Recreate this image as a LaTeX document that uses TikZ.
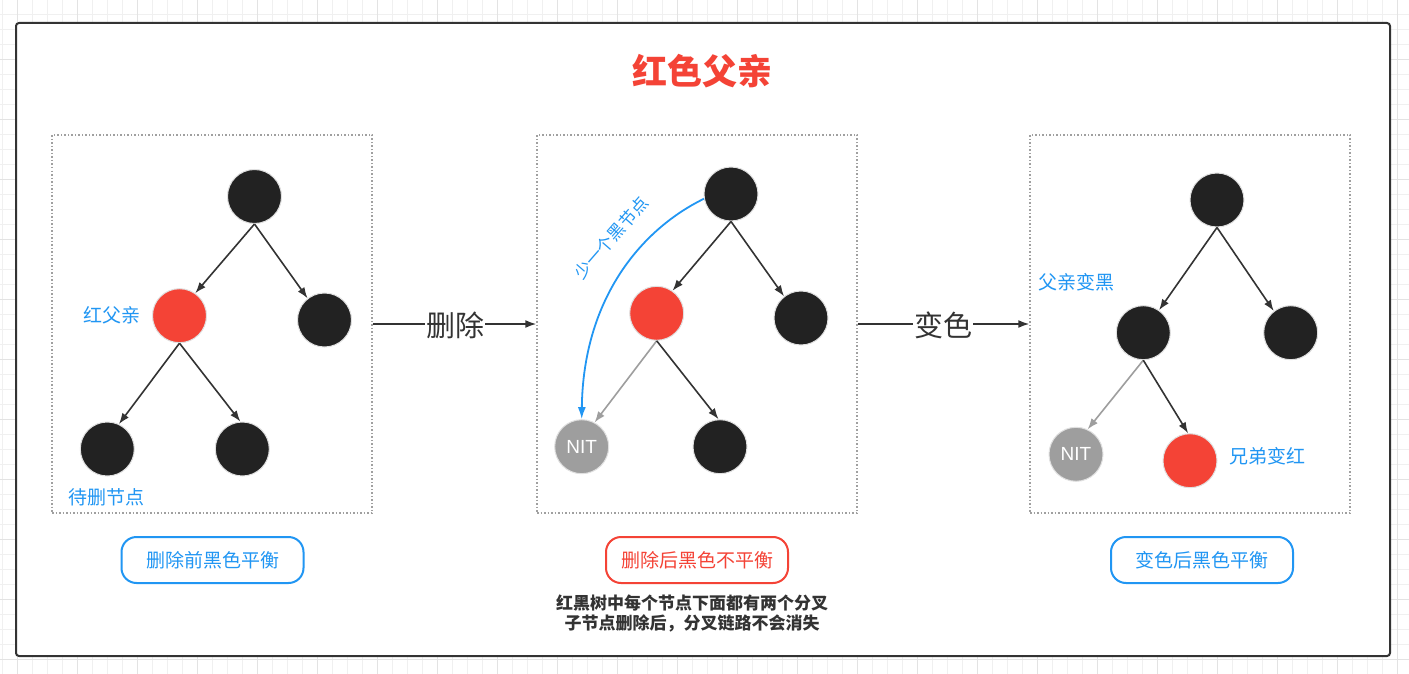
\documentclass[tikz,border=0pt]{standalone}
\usepackage{fontspec}
\setmainfont{Noto Sans CJK SC}
\newfontfamily\latinsans{Liberation Sans}
\usetikzlibrary{arrows.meta}
\definecolor{cred}{HTML}{F44336}
\definecolor{cblk}{HTML}{222222}
\definecolor{cgry}{HTML}{9E9E9E}
\definecolor{cblu}{HTML}{2196F3}
\definecolor{cdark}{HTML}{333333}
\definecolor{gridA}{HTML}{F0F0F0}
\definecolor{gridB}{HTML}{E3E3E3}
\definecolor{pan}{HTML}{A0A0A0}
\begin{document}
\begin{tikzpicture}[x=1pt,y=-1pt,
  rb/.style={circle, minimum size=54pt, inner sep=0pt, draw=white!88!black, line width=1pt},
  blk/.style={rb, fill=cblk},
  redn/.style={rb, fill=cred},
  nit/.style={rb, fill=cgry, text=white, font=\latinsans\fontsize{19}{21}\selectfont},
  edge/.style={draw=cdark, line width=1.6pt, -{Latex[length=11pt,width=8pt]}},
  gedge/.style={draw=cgry, line width=1.6pt, -{Latex[length=11pt,width=8pt]}},
  panel/.style={draw=pan, line width=1.5pt, dash pattern=on 1.5pt off 2pt, minimum width=320pt, minimum height=378pt, inner sep=0pt},
  lbl/.style={text=cblu, font=\fontsize{19}{22}\selectfont, inner sep=1pt},
  bigarrow/.style={draw=cdark, line width=1.6pt, -{Latex[length=11pt,width=8pt]}},
  biglbl/.style={fill=white, text=cdark, font=\fontsize{29}{32}\selectfont, inner sep=1pt},
  capbox/.style={draw=#1, text=#1, line width=2pt, rounded corners=15pt, minimum width=182pt, minimum height=46pt, inner sep=0pt, font=\fontsize{19}{22}\selectfont}
]
\useasboundingbox (0,0) rectangle (1409,674);
\fill[white] (0,0) rectangle (1409,674);
\foreach \i in {0,...,94} { \draw[gridA, line width=0.8pt] ({2.7+15*\i},0) -- ({2.7+15*\i},674); }
\foreach \j in {0,...,45} { \draw[gridA, line width=0.8pt] (0,{-0.7+15*\j}) -- (1409,{-0.7+15*\j}); }
\foreach \i in {0,...,23} { \draw[gridB, line width=0.8pt] ({17.7+60*\i},0) -- ({17.7+60*\i},674); }
\foreach \j in {0,...,11} { \draw[gridB, line width=0.8pt] (0,{-0.7+60*\j}) -- (1409,{-0.7+60*\j}); }

\node[draw=cdark, line width=2pt, rounded corners=3pt, fill=white, minimum width=1374pt, minimum height=633pt, inner sep=0pt] (frame) at (703,339.5) {};

\node[text=cred, font=\bfseries\fontsize{35}{40}\selectfont] (title) at (702,71) {红色父亲};

% panels
\node[panel] (pA) at (212,324) {};
\node[panel] (pB) at (697,324) {};
\node[panel] (pC) at (1190,324) {};

% left tree
\node[blk] (a0) at (254.5,196.5) {};
\node[redn] (a1) at (179.5,315.7) {};
\node[blk] (a2) at (324.5,320) {};
\node[blk] (a3) at (107.3,449) {};
\node[blk] (a4) at (242.3,449) {};
\draw[edge] (a0.south) -- (a1.55);
\draw[edge] (a0.south) -- (a2.128);
\draw[edge] (a1.south) -- (a3.65);
\draw[edge] (a1.south) -- (a4.94);
\node[lbl] (la1) at (112,315) {红父亲};
\node[lbl] (la2) at (106,497) {待删节点};

% middle tree
\node[blk] (b0) at (731,194) {};
\node[redn] (b1) at (656.7,313.3) {};
\node[blk] (b2) at (801,318) {};
\node[nit] (b3) at (581.7,446.7) {NIT};
\node[blk] (b4) at (720,446.7) {};
\draw[edge] (b0.south) -- (b1.55);
\draw[edge] (b0.south) -- (b2.128);
\draw[gedge] (b1.south) -- (b3.62);
\draw[edge] (b1.south) -- (b4.93);
\draw[draw=cblu, line width=1.8pt, -{Latex[length=12pt,width=8pt]}] (b0.190) .. controls (640,230) and (583,300) .. (b3.north);
\node[lbl, rotate=49, font=\fontsize{17}{20}\selectfont, inner sep=0pt] (lb1) at (611,238) {少一个黑节点};

% right tree
\node[blk] (c0) at (1217,200) {};
\node[blk] (c1) at (1143.3,332.7) {};
\node[blk] (c2) at (1290.7,332.7) {};
\node[nit] (c3) at (1076,454.3) {NIT};
\node[redn] (c4) at (1190,460.7) {};
\draw[edge] (c0.south) -- (c1.55);
\draw[edge] (c0.south) -- (c2.128);
\draw[gedge] (c1.south) -- (c3.65);
\draw[edge] (c1.south) -- (c4.94);
\node[lbl] (lc1) at (1076.5,282) {父亲变黑};
\node[lbl] (lc2) at (1267.5,456) {兄弟变红};

% big arrows
\draw[bigarrow] (pA.east) -- (pB.west);
\node[biglbl] (del) at (455,325) {删除};
\draw[bigarrow] (pB.east) -- (pC.west);
\node[biglbl] (chg) at (943,325) {变色};

% caption boxes
\node[capbox=cblu] (cap1) at (212.5,560) {删除前黑色平衡};
\node[capbox=cred] (cap2) at (697,560) {删除后黑色不平衡};
\node[capbox=cblu] (cap3) at (1202,560) {变色后黑色平衡};

\node[text=cdark, font=\bfseries\fontsize{17}{20}\selectfont, align=center] (note) at (692,613.5) {红黑树中每个节点下面都有两个分叉\\子节点删除后，分叉链路不会消失};
\end{tikzpicture}
\end{document}
